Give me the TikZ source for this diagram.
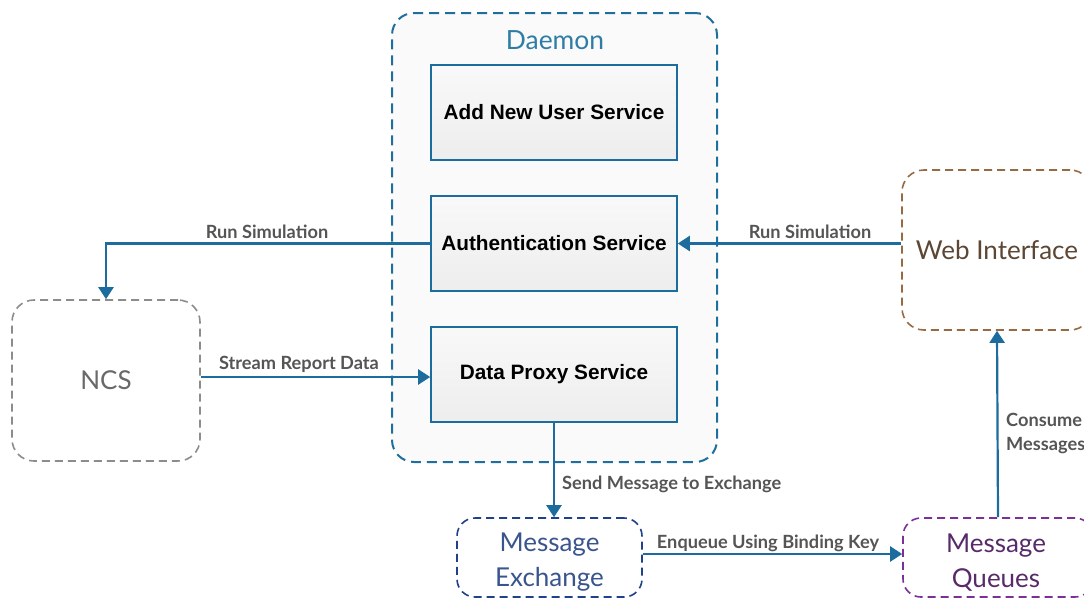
\documentclass[tikz,border=0pt]{standalone}
\usepackage{fontspec}
\setmainfont{Lato}
\newfontfamily\helv{Liberation Sans}
\usetikzlibrary{arrows.meta,shadings}

\definecolor{flow}{RGB}{28,108,158}
\definecolor{daemonblue}{RGB}{30,110,158}
\definecolor{daemontext}{RGB}{46,125,165}
\definecolor{ncsgray}{RGB}{140,140,140}
\definecolor{ncstext}{RGB}{105,105,105}
\definecolor{webbrown}{RGB}{152,106,66}
\definecolor{webtext}{RGB}{92,70,52}
\definecolor{exblue}{RGB}{32,64,138}
\definecolor{extext}{RGB}{58,85,142}
\definecolor{qpurple}{RGB}{122,48,152}
\definecolor{qtext}{RGB}{88,42,106}
\definecolor{labelgray}{RGB}{85,85,85}

\tikzset{
  container/.style={draw=#1, line width=1.6pt, dash pattern=on 8pt off 5pt,
    rounded corners=22pt, fill=white, inner sep=0pt},
  servicebox/.style={draw=flow, line width=1.6pt, shade, top color=gray!5,
    bottom color=gray!14, minimum width=246pt, minimum height=95pt,
    font=\helv\bfseries\fontsize{20.8}{24}\selectfont, text=black, inner sep=0pt},
  bigtext/.style={font=\fontsize{26}{35}\selectfont, align=center},
  flowline/.style={draw=flow, line width=2.2pt,
    -{Triangle[width=15pt,length=12pt]}},
  flowlabel/.style={font=\bfseries\fontsize{18.2}{24}\selectfont, text=labelgray,
    inner sep=1pt, align=left},
}

\begin{document}
\begin{tikzpicture}[x=1pt,y=-1pt]
\useasboundingbox (0,0) rectangle (1084,598);
\clip (0,0) rectangle (1084,598);

% Daemon container with its three services
\node[container=daemonblue, fill={rgb,255:red,250;green,250;blue,250},
  dash pattern=on 10pt off 6pt, line width=2pt,
  minimum width=325pt, minimum height=449pt] (daemon) at (554.5,237.5) {};
\node[font=\fontsize{26.4}{30}\selectfont, text=daemontext] (daemontitle) at (555,40) {Daemon};

\node[servicebox] (adduser) at (554,112.5) {Add New User Service};
\node[servicebox] (auth) at (554,243.5) {Authentication Service};
\node[servicebox] (proxy) at (554,374.5) {Data Proxy Service};

% External components
\node[container=ncsgray, minimum width=188pt, minimum height=161pt,
  bigtext, text=ncstext] (ncs) at (106,380.5) {NCS};
\node[container=webbrown, minimum width=190pt, minimum height=160pt,
  bigtext, text=webtext] (web) at (997,250) {Web Interface};
\node[container=exblue, minimum width=185pt, minimum height=79pt,
  rounded corners=18pt] (exchange) at (549.5,557.5) {};
\node[bigtext, text=extext] (exchangetext) at (549.5,562.5) {Message\\Exchange};
\node[container=qpurple, minimum width=190pt, minimum height=79pt,
  rounded corners=18pt] (queues) at (998,557.5) {};
\node[bigtext, text=qtext] (queuestext) at (996,562.5) {Message\\Queues};

% Connectors
\draw[flowline] (auth.west) -| (ncs.north);
\node[flowlabel] (lrun) at (267,232) {Run Simulation};

\draw[flowline] (web.west |- auth.east) -- (auth.east);
\node[flowlabel] (rrun) at (810,232) {Run Simulation};

\draw[flowline] (ncs.east |- proxy.west) ++(0,2.5) coordinate (ncsout)
  -- (proxy.west |- ncsout);
\node[flowlabel] (stream) at (299,364) {Stream Report Data};

\draw[flowline] (proxy.south) -- (proxy.south |- exchange.north);
\node[flowlabel, anchor=west] (send) at (561,484) {Send Message to Exchange};

\draw[flowline] (exchange.east) ++(0,-3.5) coordinate (exout)
  -- (queues.west |- exout);
\node[flowlabel] (enqueue) at (768,543) {Enqueue Using Binding Key};

\draw[flowline] (queues.north) -- (web.south);
\node[flowlabel, anchor=west, align=left] (consume) at (1005,433)
  {Consume\\Messages};
\end{tikzpicture}
\end{document}
